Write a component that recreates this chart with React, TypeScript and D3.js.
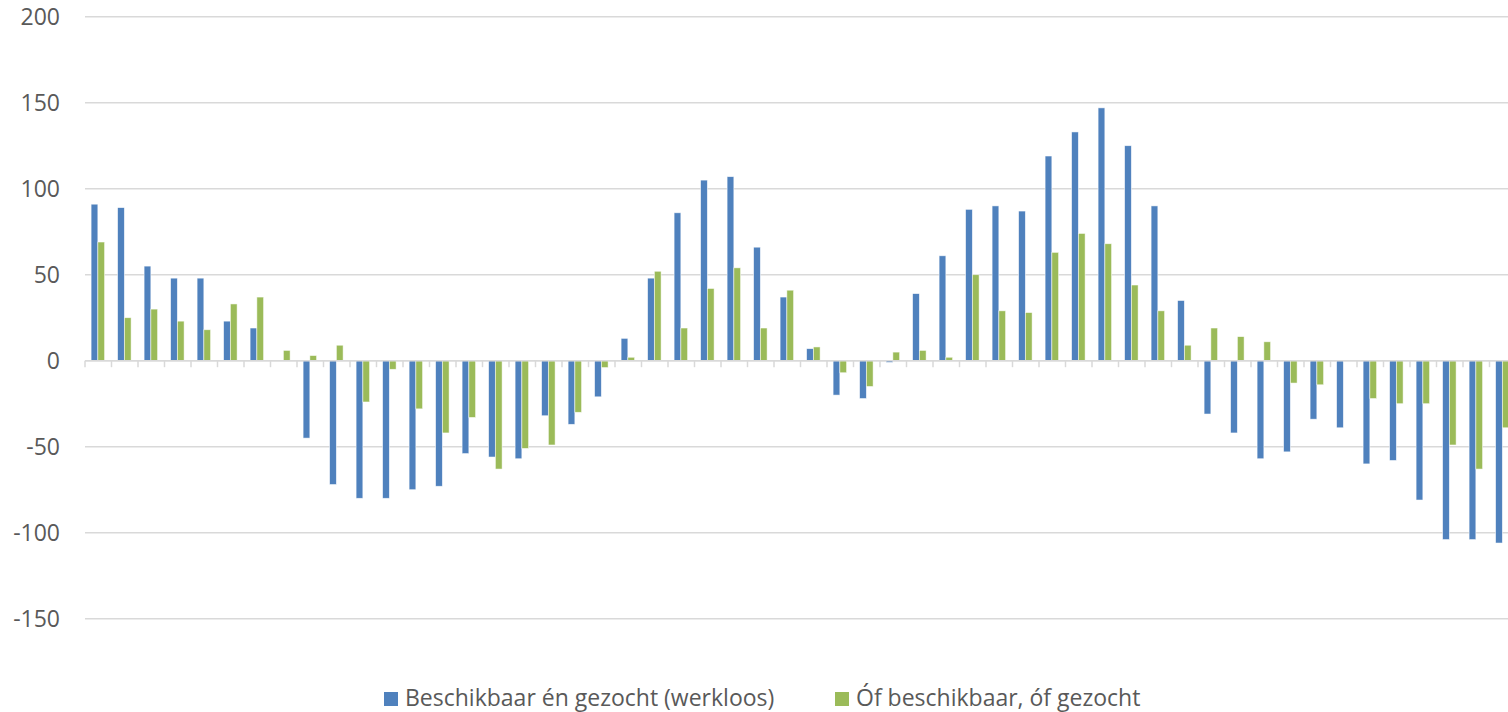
import React from 'react';
import * as d3 from 'd3';

// 54 opeenvolgende perioden (geen labels op de as)
const categories = Array.from({ length: 54 }, (_, i) => `${i + 1}`);

const werkloos = [
  91, 89, 55, 48, 48, 23, 19, 0, -45, -72,
  -80, -80, -75, -73, -54, -56, -57, -32, -37, -21,
  13, 48, 86, 105, 107, 66, 37, 7, -20, -22,
  -1, 39, 61, 88, 90, 87, 119, 133, 147, 125,
  90, 35, -31, -42, -57, -53, -34, -39, -60, -58,
  -81, -104, -104, -106,
];

const ofOf = [
  69, 25, 30, 23, 18, 33, 37, 6, 3, 9,
  -24, -5, -28, -42, -33, -63, -51, -49, -30, -4,
  2, 52, 19, 42, 54, 19, 41, 8, -7, -15,
  5, 6, 2, 50, 29, 28, 63, 74, 68, 44,
  29, 9, 19, 14, 11, -13, -14, 0, -22, -25,
  -25, -49, -63, -39,
];

const yTicks = [-150, -100, -50, 0, 50, 100, 150, 200];

const seriesNames = ['Beschikbaar én gezocht (werkloos)', 'Óf beschikbaar, óf gezocht'];
const seriesColors = ['#4f81bd', '#9bbb59'];

const WIDTH = 1508;
const HEIGHT = 712;
const PLOT = { left: 85, top: 16.7, bottom: 618.7, band: 26.5 };
const FONT = "'Open Sans', Calibri, sans-serif";
const TEXT = '#595959';
const GRID = '#d9d9d9';

const App = () => {
  const x = d3.scaleBand<string>()
    .domain(categories)
    .range([PLOT.left, PLOT.left + categories.length * PLOT.band])
    .padding(0);

  const bw = x.bandwidth();
  const x1 = d3.scaleBand<number>()
    .domain([0, 1])
    .range([bw * 0.23, bw * 0.74])
    .padding(0);

  const y = d3.scaleLinear()
    .domain([-150, 200])
    .range([PLOT.bottom, PLOT.top]);

  const y0 = y(0);
  const series = [werkloos, ofOf];

  // grenzen tussen categorieën voor de asstreepjes
  const boundaries = [...categories.map(c => x(c) as number), x.range()[1]];

  return (
    <svg
      width={WIDTH}
      height={HEIGHT}
      style={{ position: 'absolute', left: 0, top: 0, display: 'block', background: '#fff' }}
      fontFamily={FONT}
    >
      {/* gridlijnen + y labels */}
      <g>
        {yTicks.map(t => (
          <g key={t}>
            <line
              x1={PLOT.left}
              x2={WIDTH}
              y1={y(t)}
              y2={y(t)}
              stroke={GRID}
              strokeWidth={1.5}
            />
            <text
              x={60}
              y={y(t)}
              dy="0.36em"
              textAnchor="end"
              fontSize={23}
              fill={TEXT}
            >
              {t}
            </text>
          </g>
        ))}
      </g>

      {/* staven */}
      <g>
        {series.map((values, s) => (
          <g key={s}>
            {values.map((v, i) => {
              if (v === 0) return null;
              const xPos = (x(categories[i]) as number) + (x1(s) as number);
              const top = Math.min(y(v), y0);
              const h = Math.abs(y(v) - y0);
              return (
                <rect
                  key={i}
                  x={xPos}
                  y={top}
                  width={x1.bandwidth()}
                  height={h}
                  fill={seriesColors[s]}
                  stroke="#ffffff"
                  strokeOpacity={0.7}
                  strokeWidth={0.75}
                />
              );
            })}
          </g>
        ))}
      </g>

      {/* categorie-as */}
      <g>
        <line x1={PLOT.left} x2={WIDTH} y1={y0} y2={y0} stroke={GRID} strokeWidth={1.5} />
        {boundaries.map((b, i) => (
          <line key={i} x1={b} x2={b} y1={y0} y2={y0 + 6.5} stroke={GRID} strokeWidth={1.5} />
        ))}
      </g>

      {/* legenda */}
      <g>
        {seriesNames.map((name, s) => {
          const lx = s === 0 ? 384 : 835;
          return (
            <g key={name}>
              <rect x={lx} y={692} width={14} height={14} fill={seriesColors[s]} />
              <text x={lx + 21} y={705.5} fontSize={23} fill={TEXT}>
                {name}
              </text>
            </g>
          );
        })}
      </g>
    </svg>
  );
};

export default App;
